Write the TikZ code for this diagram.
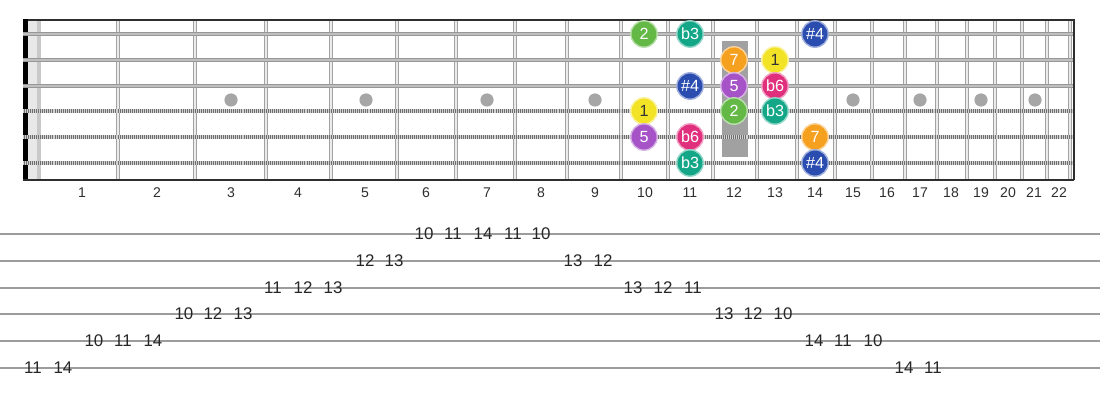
\documentclass[tikz,border=0pt]{standalone}
\usepackage{fontspec}
\setmainfont{Liberation Sans}

\definecolor{boardline}{HTML}{2E2E2E}
\definecolor{fretgrey}{HTML}{A2A2A2}
\definecolor{stringgrey}{HTML}{979797}
\definecolor{woundgrey}{HTML}{6E6E6E}
\definecolor{dotgrey}{HTML}{A6A6A6}
\definecolor{tabgrey}{HTML}{9C9C9C}
\definecolor{notegreen}{HTML}{63B846}
\definecolor{noteteal}{HTML}{13A687}
\definecolor{noteblue}{HTML}{2B4DB0}
\definecolor{noteorange}{HTML}{F6A01F}
\definecolor{noteyellow}{HTML}{F3E326}
\definecolor{notepurple}{HTML}{A553C6}
\definecolor{notepink}{HTML}{E02F7C}

\tikzset{
    fretwire/.style={draw=fretgrey,double=white!92!black,double distance=1.3pt,line width=0.8pt},
    plainstring/.style={draw=stringgrey,double=white!75!black,double distance=0.8pt,line width=0.85pt},
    woundstring/.style={draw=woundgrey,line width=3.4pt},
    woundtwist/.style={draw=white!82!black,line width=2.3pt,dash pattern=on 0.6pt off 0.8pt},
    note/.style={circle,fill=#1,draw=#1!45!white,line width=1pt,minimum size=0.66cm,inner sep=0pt,text=white,font=\fontsize{11.5}{13}\selectfont},
    fretnum/.style={text=boardline,font=\fontsize{10}{12}\selectfont},
    tabline/.style={draw=tabgrey,line width=1.5pt},
    tabnum/.style={text=black!85,inner sep=0pt,font=\fontsize{12}{14}\selectfont}
}

\begin{document}
\begin{tikzpicture}[x=0.025cm,y=-0.025cm]
        \useasboundingbox (0,0) rectangle (1100,400);

        %%%%%%%%%% Nut %%%%%%%%%%
        \fill[white!91!black] (28,19) rectangle (37,181);
        \fill[white!79!black] (37,19) rectangle (41,181);
        \fill[black] (23,19) rectangle (28,181);

        %%%%%%%%% Fret 12 %%%%%%%%
        \fill[white!63!black] (722,41) rectangle (748,157);

        %%%%%%%%% Frets %%%%%%%%%%
        \draw[fretwire] (118,20) -- (118,180);
        \draw[fretwire] (195,20) -- (195,180);
        \draw[fretwire] (266,20) -- (266,180);
        \draw[fretwire] (331,20) -- (331,180);
        \draw[fretwire] (397,20) -- (397,180);
        \draw[fretwire] (456,20) -- (456,180);
        \draw[fretwire] (515,20) -- (515,180);
        \draw[fretwire] (567,20) -- (567,180);
        \draw[fretwire] (621,20) -- (621,180);
        \draw[fretwire] (668,20) -- (668,180);
        \draw[fretwire] (713,20) -- (713,180);
        \draw[fretwire] (757,20) -- (757,180);
        \draw[fretwire] (797,20) -- (797,180);
        \draw[fretwire] (835,20) -- (835,180);
        \draw[fretwire] (872,20) -- (872,180);
        \draw[fretwire] (905,20) -- (905,180);
        \draw[fretwire] (937,20) -- (937,180);
        \draw[fretwire] (967,20) -- (967,180);
        \draw[fretwire] (995,20) -- (995,180);
        \draw[fretwire] (1022,20) -- (1022,180);
        \draw[fretwire] (1047,20) -- (1047,180);
        \draw[fretwire] (1070,20) -- (1070,180);

        %%%%%%%%% Inlays %%%%%%%%%
        \fill[dotgrey] (231,100) circle[radius=0.165cm];
        \fill[dotgrey] (366,100) circle[radius=0.165cm];
        \fill[dotgrey] (487,100) circle[radius=0.165cm];
        \fill[dotgrey] (595,100) circle[radius=0.165cm];
        \fill[dotgrey] (853,100) circle[radius=0.165cm];
        \fill[dotgrey] (920,100) circle[radius=0.165cm];
        \fill[dotgrey] (981,100) circle[radius=0.165cm];
        \fill[dotgrey] (1035,100) circle[radius=0.165cm];

        %%%%%%%%% Strings %%%%%%%%
        \draw[plainstring] (23,34) -- (1073,34);
        \draw[plainstring] (23,60) -- (1073,60);
        \draw[plainstring] (23,86) -- (1073,86);
        \draw[woundstring] (23,111) -- (1073,111);
        \draw[woundtwist] (23,111) -- (1073,111);
        \draw[woundstring] (23,137) -- (1073,137);
        \draw[woundtwist] (23,137) -- (1073,137);
        \draw[woundstring] (23,163) -- (1073,163);
        \draw[woundtwist] (23,163) -- (1073,163);

        %%%%%%%%% Border %%%%%%%%%
        \draw[boardline,line width=1.3pt] (28,20) -- (1074,20);
        \draw[boardline,line width=1.5pt] (23,180) -- (1074,180);
        \draw[boardline,line width=1.5pt] (1074,19.5) -- (1074,180.5);

        %%%%%%%%% Notes %%%%%%%%%%
        \node[note=notegreen] (s1f10) at (644,34) {2};
        \node[note=noteteal] (s1f11) at (690,34) {b3};
        \node[note=noteblue] (s1f14) at (815,34) {\#4};
        \node[note=noteorange] (s2f12) at (734,60) {7};
        \node[note=noteyellow,text=black!80] (s2f13) at (775,60) {1};
        \node[note=noteblue] (s3f11) at (690,86) {\#4};
        \node[note=notepurple] (s3f12) at (734,86) {5};
        \node[note=notepink] (s3f13) at (775,86) {b6};
        \node[note=noteyellow,text=black!80] (s4f10) at (644,111) {1};
        \node[note=notegreen] (s4f12) at (734,111) {2};
        \node[note=noteteal] (s4f13) at (775,111) {b3};
        \node[note=notepurple] (s5f10) at (644,137) {5};
        \node[note=notepink] (s5f11) at (690,137) {b6};
        \node[note=noteorange] (s5f14) at (815,137) {7};
        \node[note=noteteal] (s6f11) at (690,163) {b3};
        \node[note=noteblue] (s6f14) at (815,163) {\#4};

        %%%%%%%% Fret numbers %%%%%%%%
        \node[fretnum] (n1) at (82,193) {1};
        \node[fretnum] (n2) at (157,193) {2};
        \node[fretnum] (n3) at (231,193) {3};
        \node[fretnum] (n4) at (298,193) {4};
        \node[fretnum] (n5) at (365,193) {5};
        \node[fretnum] (n6) at (426,193) {6};
        \node[fretnum] (n7) at (487,193) {7};
        \node[fretnum] (n8) at (541,193) {8};
        \node[fretnum] (n9) at (595,193) {9};
        \node[fretnum] (n10) at (645,193) {10};
        \node[fretnum] (n11) at (690,193) {11};
        \node[fretnum] (n12) at (734,193) {12};
        \node[fretnum] (n13) at (775,193) {13};
        \node[fretnum] (n14) at (815,193) {14};
        \node[fretnum] (n15) at (853,193) {15};
        \node[fretnum] (n16) at (887,193) {16};
        \node[fretnum] (n17) at (920,193) {17};
        \node[fretnum] (n18) at (951,193) {18};
        \node[fretnum] (n19) at (981,193) {19};
        \node[fretnum] (n20) at (1008,193) {20};
        \node[fretnum] (n21) at (1034,193) {21};
        \node[fretnum] (n22) at (1059,193) {22};

        %%%%%%%%% Tab lines %%%%%%%%%
        \draw[tabline] (0,234) -- (1100,234);
        \draw[tabline] (0,261) -- (1100,261);
        \draw[tabline] (0,288) -- (1100,288);
        \draw[tabline] (0,314) -- (1100,314);
        \draw[tabline] (0,341) -- (1100,341);
        \draw[tabline] (0,368) -- (1100,368);

        %%%%%%%% Tab numbers %%%%%%%%
        \node[tabnum] (t1a) at (424,234) {10};
        \node[tabnum] (t1b) at (453,234) {11};
        \node[tabnum] (t1c) at (483,234) {14};
        \node[tabnum] (t1d) at (513,234) {11};
        \node[tabnum] (t1e) at (541,234) {10};
        \node[tabnum] (t2a) at (365,261) {12};
        \node[tabnum] (t2b) at (394,261) {13};
        \node[tabnum] (t2c) at (573,261) {13};
        \node[tabnum] (t2d) at (603,261) {12};
        \node[tabnum] (t3a) at (273,288) {11};
        \node[tabnum] (t3b) at (303,288) {12};
        \node[tabnum] (t3c) at (333,288) {13};
        \node[tabnum] (t3d) at (633,288) {13};
        \node[tabnum] (t3e) at (663,288) {12};
        \node[tabnum] (t3f) at (693,288) {11};
        \node[tabnum] (t4a) at (184,314) {10};
        \node[tabnum] (t4b) at (213,314) {12};
        \node[tabnum] (t4c) at (243,314) {13};
        \node[tabnum] (t4d) at (724,314) {13};
        \node[tabnum] (t4e) at (753,314) {12};
        \node[tabnum] (t4f) at (783,314) {10};
        \node[tabnum] (t5a) at (94,341) {10};
        \node[tabnum] (t5b) at (123,341) {11};
        \node[tabnum] (t5c) at (153,341) {14};
        \node[tabnum] (t5d) at (814,341) {14};
        \node[tabnum] (t5e) at (843,341) {11};
        \node[tabnum] (t5f) at (873,341) {10};
        \node[tabnum] (t6a) at (33,368) {11};
        \node[tabnum] (t6b) at (63,368) {14};
        \node[tabnum] (t6c) at (904,368) {14};
        \node[tabnum] (t6d) at (933,368) {11};
    \end{tikzpicture}
\end{document}
